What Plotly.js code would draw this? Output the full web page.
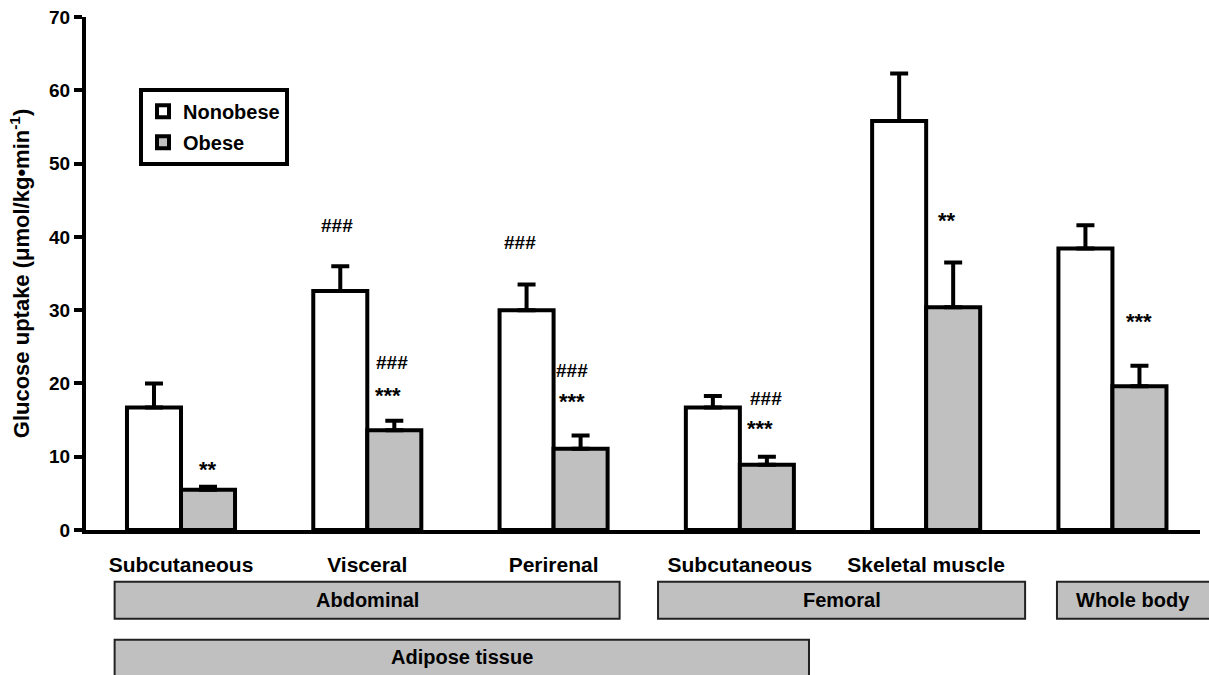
<!DOCTYPE html>
<html>
<head>
<meta charset="utf-8">
<script src="https://cdn.plot.ly/plotly-3.0.1.min.js"></script>
<style>html,body{margin:0;padding:0;background:#fff;}#chart{width:1209px;height:675px;}</style>
</head>
<body>
<div id="chart"></div>
<script>
// Data
const tickLabels = ['Subcutaneous', 'Visceral', 'Perirenal', 'Subcutaneous', 'Skeletal muscle', ''];
const positions = [0, 1, 2, 3, 4, 5];
const nonobese = [16.7, 32.6, 30.0, 16.7, 55.8, 38.4];
const nonobeseErr = [3.3, 3.4, 3.5, 1.6, 6.5, 3.2];
const obese = [5.5, 13.6, 11.1, 8.9, 30.4, 19.6];
const obeseErr = [0.4, 1.3, 1.8, 1.1, 6.1, 2.8];
const groupLabels = ['Abdominal', 'Femoral', 'Whole body', 'Adipose tissue'];
const yTicks = [0, 10, 20, 30, 40, 50, 60, 70];

const FONT = 'Liberation Sans, Arial, Helvetica, sans-serif';
const zeros = positions.map(() => 0);
const shownTickVals = positions.filter((p, i) => tickLabels[i] !== '');
const shownTickText = tickLabels.filter(t => t !== '');

const traceNon = {
  type: 'bar', name: 'Nonobese', x: positions, y: nonobese,
  marker: {color: '#ffffff', line: {color: '#000', width: 4}},
  error_y: {type: 'data', symmetric: false, array: nonobeseErr, arrayminus: zeros, color: '#000', thickness: 4, width: 9},
  legendgroup: 'a', hoverinfo: 'y'
};
const traceOb = {
  type: 'bar', name: 'Obese', x: positions, y: obese,
  marker: {color: '#c0c0c0', line: {color: '#000', width: 4}},
  error_y: {type: 'data', symmetric: false, array: obeseErr, arrayminus: zeros, color: '#000', thickness: 4, width: 9},
  legendgroup: 'b', hoverinfo: 'y'
};

function ann(text, x, y, size) {
  return {text: text, x: x, y: y, xref: 'x', yref: 'y', showarrow: false,
    font: {family: FONT, size: size, color: '#000', weight: 'bold'}};
}
const annotations = [
  ann('**', 0.145, 8.2, 22),
  ann('###', 0.84, 41.5, 19),
  ann('###', 1.13, 22.8, 19),
  ann('***', 1.11, 18.3, 22),
  ann('###', 1.82, 39.2, 19),
  ann('###', 2.10, 21.8, 19),
  ann('***', 2.10, 17.6, 22),
  ann('###', 3.14, 17.9, 19),
  ann('***', 3.11, 13.8, 22),
  ann('**', 4.11, 42.2, 22),
  ann('***', 5.14, 28.4, 22)
];

// group boxes (paper coords)
const boxes = [
  {x0: 0.0257, x1: 0.479, y0: -0.101, y1: -0.173, label: groupLabels[0]},
  {x0: 0.5135, x1: 0.843, y0: -0.101, y1: -0.173, label: groupLabels[1]},
  {x0: 0.8716, x1: 1.02, y0: -0.101, y1: -0.173, label: groupLabels[2]},
  {x0: 0.0257, x1: 0.649, y0: -0.214, y1: -0.30, label: groupLabels[3]}
];
const shapes = boxes.map(b => ({type: 'rect', xref: 'paper', yref: 'paper', x0: b.x0, x1: b.x1, y0: b.y0, y1: b.y1,
  fillcolor: '#c0c0c0', line: {color: '#222', width: 2}, layer: 'below'}));
boxes.forEach((b, i) => {
  annotations.push({text: b.label, xref: 'paper', yref: 'paper', x: i === 2 ? 0.94 : (b.x0 + b.x1) / 2,
    y: i === 3 ? -0.248 : -0.137, showarrow: false, xanchor: 'center', yanchor: 'middle',
    font: {family: FONT, size: 20, color: '#000', weight: 'bold'}});
});

const layout = {
  width: 1209, height: 675,
  margin: {l: 86, r: 9, t: 17, b: 145},
  paper_bgcolor: '#fff', plot_bgcolor: '#fff',
  barmode: 'group', bargap: 0.42, bargroupgap: 0,
  showlegend: true,
  legend: {x: 0.0476, y: 0.862, xanchor: 'left', yanchor: 'top', bgcolor: '#fff', bordercolor: '#000', borderwidth: 4,
    traceorder: 'grouped', tracegroupgap: 2,
    font: {family: FONT, size: 20, color: '#000', weight: 'bold'}},
  xaxis: {range: [-0.51, 5.47], tickvals: shownTickVals, ticktext: shownTickText, ticks: '', showgrid: false, zeroline: false,
    showline: true, linecolor: '#000', linewidth: 4, ticklabelstandoff: 13,
    tickfont: {family: FONT, size: 21, color: '#000', weight: 'bold'}, fixedrange: true},
  yaxis: {range: [0, 70], tickvals: yTicks, ticks: 'outside', ticklen: 8, tickwidth: 4, tickcolor: '#000',
    showgrid: false, zeroline: false, showline: true, linecolor: '#000', linewidth: 4,
    tickfont: {family: FONT, size: 19, color: '#000', weight: 'bold'},
    title: {text: 'Glucose uptake (μmol/kg•min<sup>-1</sup>)', standoff: 14,
      font: {family: FONT, size: 22, color: '#000', weight: 'bold'}}, fixedrange: true},
  shapes: shapes,
  annotations: annotations
};

Plotly.newPlot('chart', [traceNon, traceOb], layout, {displayModeBar: false, staticPlot: true});
</script>
</body>
</html>
